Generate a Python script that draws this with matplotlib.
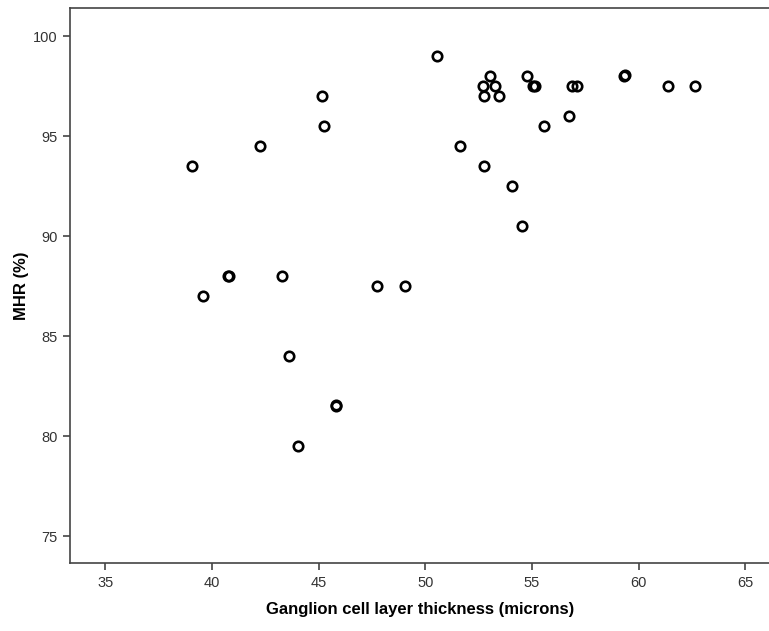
import numpy as np
import matplotlib.pyplot as plt

# ganglion cell layer thickness (microns) vs MHR (%)
gcl = [39.04, 39.59, 40.77, 40.80, 42.27, 43.30, 43.61, 44.03, 45.16, 45.25,
       45.82, 45.83, 47.71, 49.05, 50.54, 51.64, 52.74, 52.69, 52.77, 53.04,
       53.27, 53.44, 54.07, 54.55, 54.76, 55.05, 55.15, 55.57, 56.75, 56.86,
       57.10, 59.33, 59.35, 61.39, 62.65]
mhr = [93.5, 87.0, 88.0, 88.0, 94.5, 88.0, 84.0, 79.5, 97.0, 95.5,
       81.5, 81.56, 87.5, 87.5, 99.0, 94.5, 93.5, 97.5, 97.0, 98.0,
       97.5, 97.0, 92.5, 90.5, 98.0, 97.5, 97.5, 95.5, 96.0, 97.5,
       97.5, 98.0, 98.05, 97.5, 97.5]

xticks = [35, 40, 45, 50, 55, 60, 65]
yticks = [75, 80, 85, 90, 95, 100]

plt.rcParams['font.family'] = ['Liberation Sans', 'DejaVu Sans']

W, H = 769, 631
fig = plt.figure(figsize=(W / 100, H / 100), dpi=100)
ax = fig.add_axes([70.3 / W, (H - 563.3) / H, (W - 70.3) / W, (563.3 - 8.3) / H])

ax.plot(gcl, mhr, linestyle='none', marker='o', markersize=6.8,
        markerfacecolor='none', markeredgecolor='black', markeredgewidth=1.9)

ax.set_xlim(33.355, 66.11)
ax.set_ylim(73.635, 101.385)
ax.set_xticks(xticks)
ax.set_yticks(yticks)

for s in ['left', 'bottom', 'top']:
    ax.spines[s].set_color('#444444')
    ax.spines[s].set_linewidth(1.2)
ax.spines['right'].set_visible(False)

ax.tick_params(direction='out', length=5, width=1.2, color='#444444',
               labelsize=10.5, labelcolor='#333333', pad=4)

ax.set_xlabel('Ganglion cell layer thickness (microns)', fontsize=12,
              fontweight='bold', labelpad=9)
ax.set_ylabel('MHR (%)', fontsize=12, fontweight='bold', labelpad=3)

fig.savefig('out.png', dpi=100)
